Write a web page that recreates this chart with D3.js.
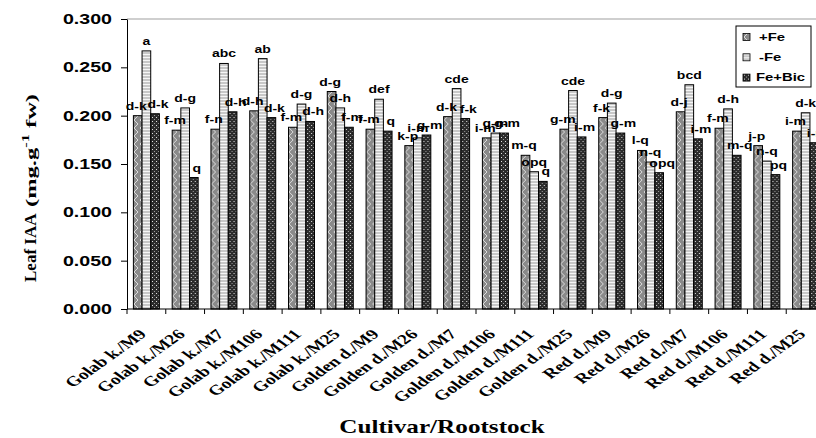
<!DOCTYPE html>
<html>
<head>
<meta charset="utf-8">
<script src="https://cdn.jsdelivr.net/npm/d3@7"></script>
<style>
  body { margin: 0; background: #fff; }
  svg { display: block; }
</style>
</head>
<body>
<svg id="chart" width="816" height="438"></svg>
<script>
/* globals d3 */
var categories = ['Golab k./M9', 'Golab k./M26', 'Golab k./M7', 'Golab k./M106', 'Golab k./M111', 'Golab k./M25',
  'Golden d./M9', 'Golden d./M26', 'Golden d./M7', 'Golden d./M106', 'Golden d./M111', 'Golden d./M25',
  'Red d./M9', 'Red d./M26', 'Red d./M7', 'Red d./M106', 'Red d./M111', 'Red d./M25'];

var seriesNames = ['+Fe', '-Fe', 'Fe+Bic'];

var plusFe = [0.200, 0.185, 0.186, 0.205, 0.188, 0.225, 0.186, 0.169, 0.199, 0.177, 0.159, 0.186, 0.198, 0.164, 0.204, 0.187, 0.169, 0.184];
var minusFe = [0.267, 0.208, 0.254, 0.259, 0.212, 0.208, 0.217, 0.177, 0.228, 0.182, 0.142, 0.226, 0.213, 0.152, 0.232, 0.207, 0.153, 0.203];
var feBic = [0.202, 0.136, 0.204, 0.198, 0.194, 0.188, 0.184, 0.180, 0.197, 0.182, 0.132, 0.178, 0.182, 0.141, 0.176, 0.159, 0.139, 0.172];

var plusFeLetters = ['d-k', 'f-m', 'f-n', 'd-h', 'f-m', 'd-g', 'f-m', 'k-p', 'd-k', 'i-m', 'm-q', 'g-m', 'f-k', 'l-q', 'd-j', 'f-m', 'j-p', 'i-m'];
var minusFeLetters = ['a', 'd-g', 'abc', 'ab', 'd-g', 'd-h', 'def', 'i-m', 'cde', 'g-m', 'opq', 'cde', 'd-g', 'n-q', 'bcd', 'd-h', 'n-q', 'd-k'];
var feBicLetters = ['d-k', 'q', 'd-h', 'd-k', 'd-h', 'f-m', 'q', 'g-m', 'f-k', 'g-m', 'q', 'i-m', 'g-m', 'opq', 'i-m', 'm-q', 'pq', 'i-m'];

var yTicks = [0, 0.05, 0.1, 0.15, 0.2, 0.25, 0.3];

(function () {
  var svg = d3.select('#chart');
  var plotLeft = 127, plotRight = 825, plotTop = 19, plotBottom = 309;
  var stretch = 1.4; // text in the source is drawn wide
  var labelNudge = [-1.5, 0, 3]; // letters sit a little apart, as in the source

  // Fill patterns for the three series
  var defs = svg.append('defs');
  var pPlus = defs.append('pattern').attr('id', 'pPlus')
    .attr('width', 6).attr('height', 8).attr('patternUnits', 'userSpaceOnUse');
  pPlus.append('rect').attr('width', 6).attr('height', 8).attr('fill', '#8a8a8a');
  pPlus.append('path').attr('d', 'M1,0 L5,4 L1,8').attr('fill', 'none')
    .attr('stroke', '#e4e4e4').attr('stroke-width', 0.9);

  var pMinus = defs.append('pattern').attr('id', 'pMinus')
    .attr('width', 4).attr('height', 3).attr('patternUnits', 'userSpaceOnUse');
  pMinus.append('rect').attr('width', 4).attr('height', 3).attr('fill', '#c8c8c8');
  pMinus.append('rect').attr('width', 4).attr('height', 1).attr('fill', '#f6f6f6');

  var pBic = defs.append('pattern').attr('id', 'pBic')
    .attr('width', 4).attr('height', 4).attr('patternUnits', 'userSpaceOnUse');
  pBic.append('rect').attr('width', 4).attr('height', 4).attr('fill', '#2c2c2c');
  pBic.append('rect').attr('x', 1).attr('y', 1).attr('width', 1).attr('height', 1).attr('fill', '#e0e0e0');
  pBic.append('rect').attr('x', 3).attr('y', 3).attr('width', 1).attr('height', 1).attr('fill', '#9a9a9a');

  var fills = ['url(#pPlus)', 'url(#pMinus)', 'url(#pBic)'];

  // Scales
  var x0 = d3.scaleBand().domain(categories).range([plotLeft, plotRight]);
  var bw = x0.bandwidth();
  var x1 = d3.scaleBand().domain(seriesNames).range([bw * 0.165, bw * 0.835]);
  var y = d3.scaleLinear().domain([0, 0.3]).range([plotBottom, plotTop]);

  // Top line of the plot area
  svg.append('line')
    .attr('x1', plotLeft).attr('x2', 816)
    .attr('y1', y(0.3)).attr('y2', y(0.3))
    .attr('stroke', '#a0a0a0').attr('stroke-width', 1.2);

  var rows = categories.map(function (c, i) {
    return {
      cat: c,
      vals: [plusFe[i], minusFe[i], feBic[i]],
      letters: [plusFeLetters[i], minusFeLetters[i], feBicLetters[i]]
    };
  });

  var groups = svg.append('g').selectAll('g')
    .data(rows).join('g')
    .attr('transform', function (d) { return 'translate(' + x0(d.cat) + ',0)'; });

  var cells = function (d) {
    return d.vals.map(function (v, k) {
      return { s: seriesNames[k], v: v, k: k, t: d.letters[k] };
    });
  };

  groups.selectAll('rect')
    .data(cells).join('rect')
    .attr('x', function (d) { return x1(d.s); })
    .attr('y', function (d) { return y(d.v); })
    .attr('width', x1.bandwidth())
    .attr('height', function (d) { return y(0) - y(d.v); })
    .attr('fill', function (d) { return fills[d.k]; })
    .attr('stroke', '#000').attr('stroke-width', 1);

  // Significance letters above bars
  groups.selectAll('text')
    .data(cells).join('text')
    .attr('transform', function (d) {
      var cx = x1(d.s) + x1.bandwidth() / 2 + labelNudge[d.k];
      return 'translate(' + cx + ',' + (y(d.v) - 6) + ') scale(' + stretch + ',1)';
    })
    .attr('text-anchor', 'middle')
    .attr('font-family', 'Arial, "Liberation Sans"')
    .attr('font-weight', 'bold')
    .attr('font-size', 10)
    .text(function (d) { return d.t; });

  // Y axis
  var yAxis = svg.append('g')
    .attr('transform', 'translate(' + plotLeft + ',0)')
    .call(d3.axisLeft(y).tickValues(yTicks).tickFormat(d3.format('.3f')).tickSize(6).tickSizeOuter(0));
  yAxis.select('.domain').attr('stroke', '#000');
  yAxis.selectAll('.tick line').attr('stroke', '#000');
  yAxis.selectAll('.tick text')
    .attr('x', null).attr('dy', null)
    .attr('dominant-baseline', 'central')
    .attr('transform', 'translate(-15,0) scale(' + stretch + ',1)')
    .attr('font-family', 'Arial, "Liberation Sans"')
    .attr('font-weight', 'bold')
    .attr('font-size', 14)
    .attr('fill', '#000');

  // X axis: baseline plus ticks on group boundaries
  svg.append('line')
    .attr('x1', plotLeft).attr('x2', 816)
    .attr('y1', plotBottom).attr('y2', plotBottom)
    .attr('stroke', '#000');
  svg.append('g').selectAll('line')
    .data(categories).join('line')
    .attr('x1', function (d) { return x0(d); })
    .attr('x2', function (d) { return x0(d); })
    .attr('y1', plotBottom).attr('y2', plotBottom + 5)
    .attr('stroke', '#000');

  svg.append('g').selectAll('text')
    .data(categories).join('text')
    .attr('transform', function (d) {
      return 'translate(' + (x0(d) + bw / 2 + 1) + ',' + (plotBottom + 26) + ') scale(' + stretch + ',1) rotate(-45)';
    })
    .attr('text-anchor', 'end')
    .attr('font-family', '"Liberation Serif", "Times New Roman", serif')
    .attr('font-weight', 'bold')
    .attr('font-size', 14)
    .text(function (d) { return d; });

  // Axis titles
  svg.append('text')
    .attr('transform', 'translate(442,433) scale(' + stretch + ',1)')
    .attr('text-anchor', 'middle')
    .attr('font-family', '"Liberation Serif", "Times New Roman", serif')
    .attr('font-weight', 'bold')
    .attr('font-size', 18)
    .text('Cultivar/Rootstock');

  var yt = svg.append('g').attr('transform', 'translate(36,282) rotate(-90)')
    .attr('font-family', '"Liberation Serif", "Times New Roman", serif')
    .attr('font-weight', 'bold');
  yt.append('text').attr('font-size', 17).text('Leaf IAA');
  var unit = yt.append('text').attr('x', 75).attr('font-size', 15)
    .attr('textLength', 113).attr('lengthAdjust', 'spacingAndGlyphs');
  unit.append('tspan').text('(mg.g');
  unit.append('tspan').attr('font-size', 10).attr('dy', -7).text('-1');
  unit.append('tspan').attr('dy', 7).text(' fw)');

  // Legend
  var legend = svg.append('g');
  legend.append('rect')
    .attr('x', 736).attr('y', 26).attr('width', 75).attr('height', 61)
    .attr('fill', '#fff').attr('stroke', '#000');
  var items = legend.selectAll('g')
    .data(seriesNames).join('g')
    .attr('transform', function (d, i) { return 'translate(743,' + (37 + i * 20.3) + ')'; });
  items.append('rect')
    .attr('x', 0).attr('y', -3.5).attr('width', 7).attr('height', 7)
    .attr('fill', function (d, i) { return fills[i]; })
    .attr('stroke', '#000').attr('stroke-width', 0.8);
  items.append('text')
    .attr('transform', function (d, i) { return 'translate(' + (i === 2 ? 13 : 16) + ',0) scale(1.35,1)'; })
    .attr('dominant-baseline', 'central')
    .attr('font-family', 'Arial, "Liberation Sans"')
    .attr('font-weight', 'bold')
    .attr('font-size', 11)
    .text(function (d) { return d; });
})();
</script>
</body>
</html>
